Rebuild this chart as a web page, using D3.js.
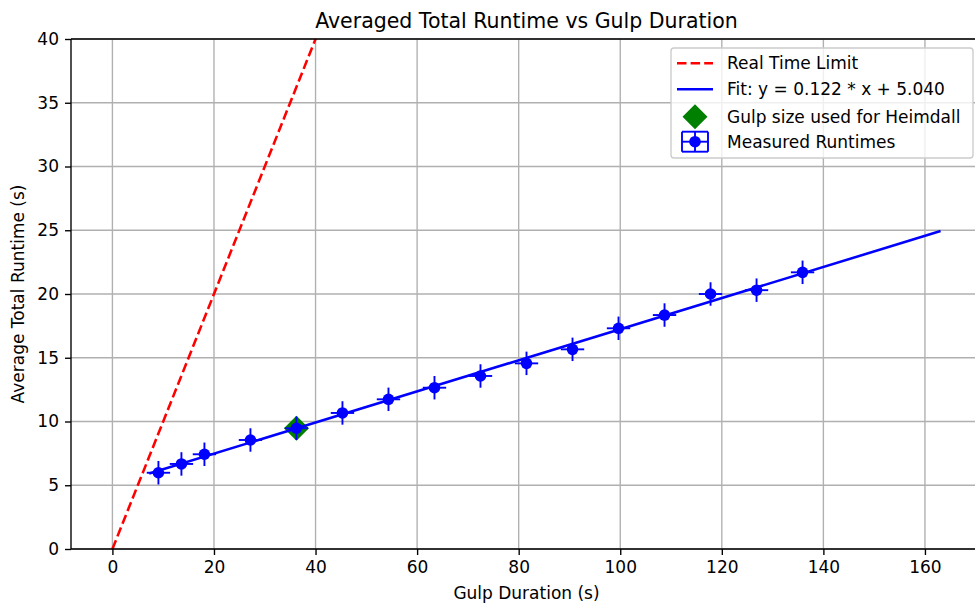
<!DOCTYPE html>
<html>
<head>
<meta charset="utf-8">
<script src="https://cdn.jsdelivr.net/npm/d3@7"></script>
<style>
  html, body { margin: 0; padding: 0; background: #fff; }
  svg { display: block; font-family: "DejaVu Sans", sans-serif; }
</style>
</head>
<body>
<svg id="chart" width="975" height="604"></svg>
<script>
// Gulp durations (s) and measured average total runtimes (s)
const gulpDuration = [9.06, 13.59, 18.12, 27.18, 36.24, 45.30, 54.36, 63.42, 72.48, 81.54, 90.60, 99.66, 108.72, 117.78, 126.84, 135.90];
const avgRuntime   = [5.98, 6.67, 7.43, 8.55, 9.47, 10.67, 11.74, 12.65, 13.57, 14.56, 15.66, 17.31, 18.35, 20.00, 20.30, 21.70];
const durationErr  = [2.3, 2.3, 2.3, 2.3, 2.3, 2.3, 2.3, 2.3, 2.3, 2.3, 2.3, 2.3, 2.3, 2.3, 2.3, 2.3];
const runtimeErr   = [0.92, 0.92, 0.92, 0.92, 0.92, 0.92, 0.92, 0.92, 0.92, 0.92, 0.92, 0.92, 0.92, 0.92, 0.92, 0.92];

// Linear fit y = slope * x + intercept, drawn over [0.8*min, 1.2*max]
const fitSlope = 0.122;
const fitIntercept = 5.040;
const fitRange = [0.8 * 9.06, 1.2 * 135.90];

// Real-time limit y = x
const realTimeRange = [0, 1.2 * 135.90];

// Chosen gulp size
const heimdallPoint = [36.24, 9.47];

const xTicks = [0, 20, 40, 60, 80, 100, 120, 140, 160];
const yTicks = [0, 5, 10, 15, 20, 25, 30, 35, 40];

const legendLabels = ["Real Time Limit", "Fit: y = 0.122 * x + 5.040", "Gulp size used for Heimdall", "Measured Runtimes"];

const svg = d3.select("#chart");
const pL = 71, pR = 982, pT = 39, pB = 549;
const pad = (realTimeRange[1] - realTimeRange[0]) * 0.05;

const x = d3.scaleLinear().domain([realTimeRange[0] - pad, realTimeRange[1] + pad]).range([pL, pR]);
const y = d3.scaleLinear().domain([0, 40]).range([pB, pT]);

svg.append("defs").append("clipPath").attr("id", "plotClip")
  .append("rect").attr("x", pL).attr("y", pT).attr("width", pR - pL).attr("height", pB - pT);

// Grid
const grid = svg.append("g");
grid.selectAll("line.gx").data(xTicks).join("line")
  .attr("x1", d => x(d)).attr("x2", d => x(d)).attr("y1", pT).attr("y2", pB)
  .attr("stroke", "#b0b0b0").attr("stroke-width", 1.37);
grid.selectAll("line.gy").data(yTicks).join("line")
  .attr("x1", pL).attr("x2", pR).attr("y1", d => y(d)).attr("y2", d => y(d))
  .attr("stroke", "#b0b0b0").attr("stroke-width", 1.37);

const plot = svg.append("g").attr("clip-path", "url(#plotClip)");

// Real-time limit
plot.append("path")
  .datum(realTimeRange)
  .attr("d", d3.line().x(d => x(d)).y(d => y(d)))
  .attr("fill", "none").attr("stroke", "#ff0000").attr("stroke-width", 2.56)
  .attr("stroke-dasharray", "9.5,4.1");

// Heimdall marker
const diamond = (cx, cy, r) => `M${cx},${cy - r}L${cx + r},${cy}L${cx},${cy + r}L${cx - r},${cy}Z`;
plot.append("path")
  .attr("d", diamond(x(heimdallPoint[0]), y(heimdallPoint[1]), 12.5))
  .attr("fill", "#008000");

// Fit line
plot.append("path")
  .datum(fitRange)
  .attr("d", d3.line().x(d => x(d)).y(d => y(fitSlope * d + fitIntercept)))
  .attr("fill", "none").attr("stroke", "#0000ff").attr("stroke-width", 2.56);

// Measured runtimes with error bars
const pts = gulpDuration.map((d, i) => ({ x: d, y: avgRuntime[i], ex: durationErr[i], ey: runtimeErr[i] }));
const eb = plot.append("g");
eb.selectAll("line.ex").data(pts).join("line")
  .attr("x1", d => x(d.x - d.ex)).attr("x2", d => x(d.x + d.ex))
  .attr("y1", d => y(d.y)).attr("y2", d => y(d.y))
  .attr("stroke", "#0000ff").attr("stroke-width", 1.9);
eb.selectAll("line.ey").data(pts).join("line")
  .attr("x1", d => x(d.x)).attr("x2", d => x(d.x))
  .attr("y1", d => y(d.y - d.ey)).attr("y2", d => y(d.y + d.ey))
  .attr("stroke", "#0000ff").attr("stroke-width", 1.9);
eb.selectAll("circle").data(pts).join("circle")
  .attr("cx", d => x(d.x)).attr("cy", d => y(d.y)).attr("r", 5.8)
  .attr("fill", "#0000ff");

// Axes
const xAxis = svg.append("g").attr("transform", `translate(0,${pB})`)
  .call(d3.axisBottom(x).tickValues(xTicks).tickSize(6).tickPadding(6).tickFormat(d3.format("d")));
const yAxis = svg.append("g").attr("transform", `translate(${pL},0)`)
  .call(d3.axisLeft(y).tickValues(yTicks).tickSize(6).tickPadding(6).tickFormat(d3.format("d")));
[xAxis, yAxis].forEach(a => {
  a.select(".domain").remove();
  a.selectAll(".tick line").attr("stroke", "#000").attr("stroke-width", 1.37);
  a.selectAll(".tick text").attr("fill", "#000").attr("font-size", 17).attr("font-family", "DejaVu Sans");
});

// Spines
svg.append("line").attr("x1", pL).attr("x2", pL).attr("y1", pT).attr("y2", pB).attr("stroke", "#000").attr("stroke-width", 1.37);
svg.append("line").attr("x1", pL).attr("x2", pR).attr("y1", pB).attr("y2", pB).attr("stroke", "#000").attr("stroke-width", 1.37);
svg.append("line").attr("x1", pL).attr("x2", pR).attr("y1", pT).attr("y2", pT).attr("stroke", "#000").attr("stroke-width", 1.37);
svg.append("line").attr("x1", pR).attr("x2", pR).attr("y1", pT).attr("y2", pB).attr("stroke", "#000").attr("stroke-width", 1.37);

// Titles
svg.append("text").attr("x", (pL + pR) / 2).attr("y", 28).attr("text-anchor", "middle")
  .attr("font-size", 20.5).attr("fill", "#000").text("Averaged Total Runtime vs Gulp Duration");
svg.append("text").attr("x", (pL + pR) / 2).attr("y", 599).attr("text-anchor", "middle")
  .attr("font-size", 17).attr("fill", "#000").text("Gulp Duration (s)");
svg.append("text").attr("transform", `translate(24,${(pT + pB) / 2}) rotate(-90)`).attr("text-anchor", "middle")
  .attr("font-size", 17).attr("fill", "#000").text("Average Total Runtime (s)");

// Legend
const lg = svg.append("g");
lg.append("rect").attr("x", 671).attr("y", 48).attr("width", 302).attr("height", 110).attr("rx", 3)
  .attr("fill", "#fff").attr("fill-opacity", 0.8).attr("stroke", "#cccccc").attr("stroke-width", 1.37);
const rowsY = [63.3, 89.3, 116.7, 141.7];
const hx0 = 677, hx1 = 713, hxc = 695;
lg.append("line").attr("x1", hx0).attr("x2", hx1).attr("y1", rowsY[0]).attr("y2", rowsY[0])
  .attr("stroke", "#ff0000").attr("stroke-width", 2.56).attr("stroke-dasharray", "9.5,4.1");
lg.append("line").attr("x1", hx0).attr("x2", hx1).attr("y1", rowsY[1]).attr("y2", rowsY[1])
  .attr("stroke", "#0000ff").attr("stroke-width", 2.56);
lg.append("path").attr("d", diamond(hxc, rowsY[2], 12.5)).attr("fill", "#008000");
const eg = lg.append("g").attr("stroke", "#0000ff").attr("stroke-width", 1.9);
const ey = rowsY[3], hw = 13, hh = 10;
eg.append("line").attr("x1", hxc - hw).attr("x2", hxc + hw).attr("y1", ey).attr("y2", ey);
eg.append("line").attr("x1", hxc).attr("x2", hxc).attr("y1", ey - hh).attr("y2", ey + hh);
eg.append("line").attr("x1", hxc - hw).attr("x2", hxc - hw).attr("y1", ey - hh).attr("y2", ey + hh);
eg.append("line").attr("x1", hxc + hw).attr("x2", hxc + hw).attr("y1", ey - hh).attr("y2", ey + hh);
eg.append("line").attr("x1", hxc - hw).attr("x2", hxc + hw).attr("y1", ey - hh).attr("y2", ey - hh);
eg.append("line").attr("x1", hxc - hw).attr("x2", hxc + hw).attr("y1", ey + hh).attr("y2", ey + hh);
lg.append("circle").attr("cx", hxc).attr("cy", ey).attr("r", 5.8).attr("fill", "#0000ff");
lg.selectAll("text").data(legendLabels).join("text")
  .attr("x", 727).attr("y", (d, i) => rowsY[i]).attr("dy", "0.35em")
  .attr("font-size", 17).attr("fill", "#000").text(d => d);
</script>
</body>
</html>
